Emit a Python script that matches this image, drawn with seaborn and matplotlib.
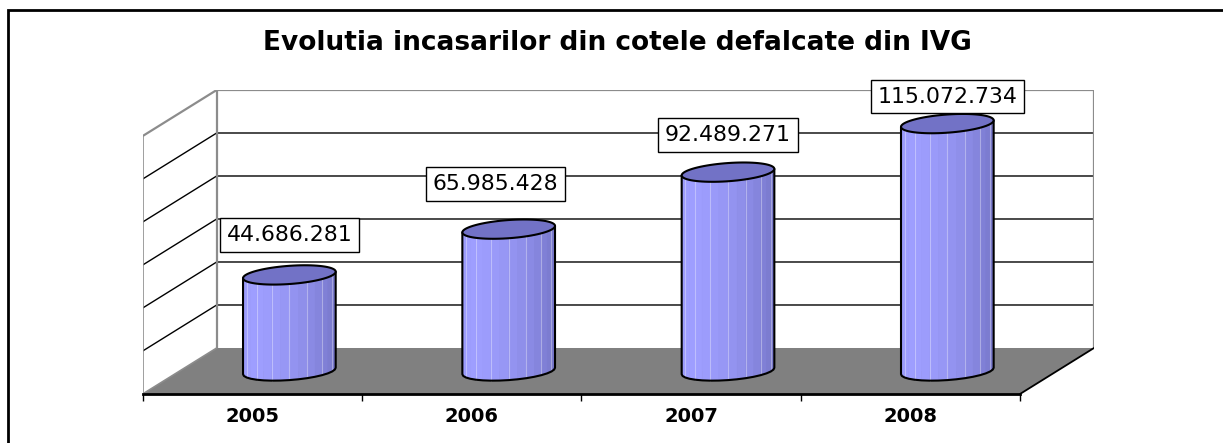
import numpy as np
import matplotlib
matplotlib.use('Agg')
import matplotlib.pyplot as plt
import seaborn as sns
from matplotlib.patches import Rectangle
from matplotlib.colors import to_rgb

sns.set_style('white')
plt.rcParams['font.family'] = ['DejaVu Sans']
plt.rcParams['text.color'] = 'black'
plt.rcParams['xtick.color'] = 'black'
plt.rcParams['xtick.labelcolor'] = 'black'

# data
years = ['2005', '2006', '2007', '2008']
values = [44686281, 65985428, 92489271, 115072734]
title = 'Evolutia incasarilor din cotele defalcate din IVG'

# label nudges (layout only)
label_dx = [0.0, -0.06, 0.0, 0.0]
label_dy = [18.6e6, 21.0e6, 17.3e6, 12.6e6]

# oblique 3d box: half depth in category units / value units
DX = 0.1687
DY = 10.7e6
YMAX = 120e6
STEP = 20e6
RX = 0.199          # cylinder radius across
RZ = 0.42           # cylinder radius in depth, fraction of half depth

light = np.array(to_rgb('#9e9eff'))
dark = np.array(to_rgb('#6c6cbb'))
top_col = '#7272c6'

fig = plt.figure(figsize=(12.23, 4.43), dpi=100)
ax = fig.add_axes([142.7 / 1223, 49 / 443, 951.3 / 1223, 304 / 443])
ax.set_facecolor('none')

# cylinder bodies (flat base colour, shaded afterwards)
sns.barplot(x=years, y=values, width=2 * RX, color='#8a8ae6', saturation=1,
            edgecolor='none', ax=ax, zorder=3)

ax.set_xlim(-0.5 - DX, 3.5 + DX)
ax.set_ylim(-DY, YMAX + DY)
ax.set_xlabel('')
ax.set_ylabel('')

# left wall
ax.fill([-0.5 - DX, -0.5 + DX, -0.5 + DX, -0.5 - DX],
        [-DY, DY, YMAX + DY, YMAX - DY], color='white', zorder=0)
# back wall
ax.fill([-0.5 + DX, 3.5 + DX, 3.5 + DX, -0.5 + DX],
        [DY, DY, YMAX + DY, YMAX + DY], color='white', zorder=0)

gray = '#8c8c8c'
for k in range(1, 6):
    y = k * STEP
    ax.plot([-0.5 - DX, -0.5 + DX, 3.5 + DX], [y - DY, y + DY, y + DY],
            color='black', lw=1, zorder=1)
ax.plot([-0.5 - DX, -0.5 - DX, -0.5 + DX, 3.5 + DX, 3.5 + DX],
        [-DY, YMAX - DY, YMAX + DY, YMAX + DY, DY], color=gray, lw=1.6, zorder=1)
ax.plot([-0.5 + DX, -0.5 + DX], [DY, YMAX + DY], color=gray, lw=1.6, zorder=1)

# floor
ax.fill([-0.5 - DX, 3.5 - DX, 3.5 + DX, -0.5 + DX], [-DY, -DY, DY, DY],
        facecolor='#808080', edgecolor='none', zorder=2)
ax.plot([-0.5 - DX, -0.5 + DX], [-DY, DY], color=gray, lw=1.2, zorder=2)
ax.plot([3.5 - DX, 3.5 + DX], [-DY, DY], color='black', lw=1.3, zorder=2)

# shaded cylinders
t0 = np.arctan2(RZ * DX, RX)
ts = np.linspace(t0 + np.pi, t0 + 2 * np.pi, 17)
t_light = t0 + np.pi + 0.22 * np.pi
full = np.linspace(0, 2 * np.pi, 80)


def ell(cx, cy, t):
    return (cx + RX * np.cos(t) + RZ * DX * np.sin(t),
            cy + RZ * DY * np.sin(t))


for i, v in enumerate(values):
    bx, by = ell(i, 0, ts)
    tx, ty = ell(i, v, ts)
    for j in range(len(ts) - 1):
        tm = 0.5 * (ts[j] + ts[j + 1])
        b = 0.5 * (1 + np.cos(tm - t_light))
        c = dark + (light - dark) * b
        ax.fill([bx[j], bx[j + 1], tx[j + 1], tx[j]],
                [by[j], by[j + 1], ty[j + 1], ty[j]],
                color=c, lw=0.4, zorder=4)
        if j > 0 and j % 2 == 0:
            ax.plot([bx[j], tx[j]], [by[j], ty[j]], color='white',
                    alpha=0.35, lw=0.8, zorder=4)
    # outline: sides and front of base
    ax.plot(np.r_[tx[0], bx, tx[-1]], np.r_[ty[0], by, ty[-1]],
            color='black', lw=1.5, zorder=5)
    ex, ey = ell(i, v, full)
    ax.fill(ex, ey, facecolor=top_col, edgecolor='black', lw=1.5, zorder=5)

    ax.text(i + label_dx[i], v + label_dy[i], f'{v:,}'.replace(',', '.'),
            ha='center', va='center', fontsize=15.8, color='black', zorder=6,
            bbox=dict(boxstyle='square,pad=0.3', fc='white', ec='black', lw=1))

# x axis along the front edge of the floor
for s in ['top', 'right', 'left']:
    ax.spines[s].set_visible(False)
ax.spines['bottom'].set_color('black')
ax.spines['bottom'].set_linewidth(2)
ax.spines['bottom'].set_bounds(-0.5 - DX, 3.5 - DX)
ax.set_yticks([])
ax.set_xticks([k - 0.5 - DX for k in range(len(years) + 1)])
ax.set_xticklabels([])
ax.set_xticks([i - DX for i in range(len(years))], minor=True)
ax.set_xticklabels(years, minor=True, fontsize=14, fontweight='bold', color='black')
ax.tick_params(axis='x', which='major', length=5, width=1, color='black', bottom=True)
ax.tick_params(axis='x', which='minor', length=0, pad=9)

fig.text(617.5 / 1223, 1 - 43 / 443, title, ha='center', va='center',
         fontsize=19, fontweight='bold', color='black')

fig.patches.append(Rectangle((8 / 1223, -0.1), 1.5, 0.1 + 433 / 443,
                             transform=fig.transFigure, fill=False,
                             ec='black', lw=2))

fig.savefig('out.png', dpi=100, facecolor='white')
